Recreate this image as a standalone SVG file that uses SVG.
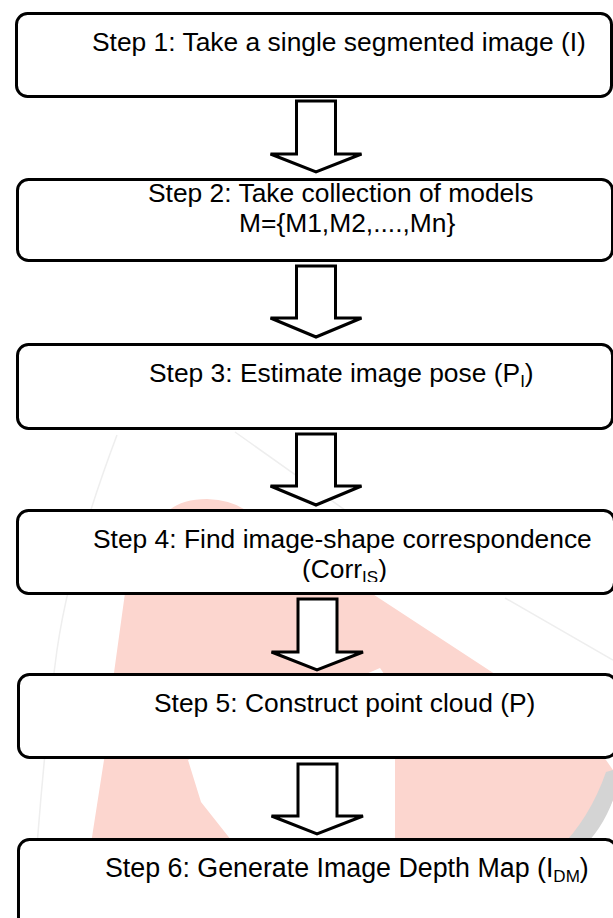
<svg xmlns="http://www.w3.org/2000/svg" width="613" height="918" viewBox="0 0 613 918">
  <style>
    .box { fill: #ffffff; stroke: #000000; stroke-width: 3; }
    .arrow { fill: #ffffff; stroke: #000000; stroke-width: 3; stroke-linejoin: miter; }
    .lbl { font-family: "Liberation Sans", Arial, sans-serif; font-size: 26.4px; fill: #000000; }
    .sub { font-size: 17px; }
    .wm { fill: #fcd6cf; stroke: none; }
    .wmline { fill: none; stroke: #eeeeee; stroke-width: 1.5; }
  </style>
  <defs>
    <clipPath id="clip4">
      <rect x="0" y="500" width="613" height="82"/>
    </clipPath>
  </defs>
  <rect x="0" y="0" width="613" height="918" fill="#ffffff"/>

  <g id="watermark">
    <path class="wmline" d="M117,435 Q70,560 57,650 Q42,760 32,918"/>
    <path class="wmline" d="M235,432 L352,515"/>
    <path class="wmline" d="M505,598 L613,660"/>
    <path class="wm" d="M164,515 Q178,499 207,499 Q236,500 252,515 L504,680 L606,760 L613,770 L613,800 Q600,830 580,850 L90,850 L104,760 L113,680 L125,593 Z"/>
    <path fill="#ffffff" d="M352,680 L380,668 L395,690 L395,860 L235,860 L235,845 L201,802 L188,760 Z"/>
    <path fill="#d4d4d4" d="M606,772 L613,770 L613,800 Q602,830 580,850 L558,850 Q590,818 606,772 Z"/>
  </g>

  <g id="connectors">
    <path class="arrow" d="M296.5,101 L335.5,101 L335.5,154 L361.5,154 L316,172 L270.5,154 L296.5,154 Z"/>
    <path class="arrow" d="M296.5,266 L335.5,266 L335.5,318 L361.5,318 L316,337 L270.5,318 L296.5,318 Z"/>
    <path class="arrow" d="M296.5,434 L335.5,434 L335.5,486 L361.5,486 L316,505 L270.5,486 L296.5,486 Z"/>
    <path class="arrow" d="M298,599 L337,599 L337,652 L363,652 L317,670 L271.5,652 L298,652 Z"/>
    <path class="arrow" d="M298,764 L337,764 L337,816 L363,816 L317,834 L271.5,816 L298,816 Z"/>
  </g>

  <g id="step1">
    <rect class="box" x="16.5" y="13.5" width="595" height="83" rx="11"/>
    <text class="lbl" x="92" y="51">Step 1: Take a single segmented image (I)</text>
  </g>

  <g id="step2">
    <rect class="box" x="17.5" y="179.5" width="595" height="81" rx="11"/>
    <text class="lbl" x="148" y="202">Step 2: Take collection of models</text>
    <text class="lbl" x="239" y="232">M={M1,M2,....,Mn}</text>
  </g>

  <g id="step3">
    <rect class="box" x="17.5" y="344.5" width="595" height="84" rx="11"/>
    <text class="lbl" x="149" y="382">Step 3: Estimate image pose (P<tspan class="sub" dy="5">I</tspan><tspan dy="-5">)</tspan></text>
  </g>

  <g id="step4">
    <rect class="box" x="17.5" y="510.5" width="597" height="83" rx="11"/>
    <text class="lbl" x="93" y="548">Step 4: Find image-shape correspondence</text>
    <text class="lbl" x="302" y="578" clip-path="url(#clip4)">(Corr<tspan class="sub" dy="5">IS</tspan><tspan dy="-5">)</tspan></text>
  </g>

  <g id="step5">
    <rect class="box" x="18.5" y="674.5" width="598" height="83" rx="11"/>
    <text class="lbl" x="154" y="712">Step 5: Construct point cloud (P)</text>
  </g>

  <g id="step6">
    <rect class="box" x="18.5" y="839.5" width="598" height="100" rx="11"/>
    <text class="lbl" x="105" y="877" style="font-size:26.8px">Step 6: Generate Image Depth Map (I<tspan class="sub" dy="5">DM</tspan><tspan dy="-5">)</tspan></text>
  </g>
</svg>
